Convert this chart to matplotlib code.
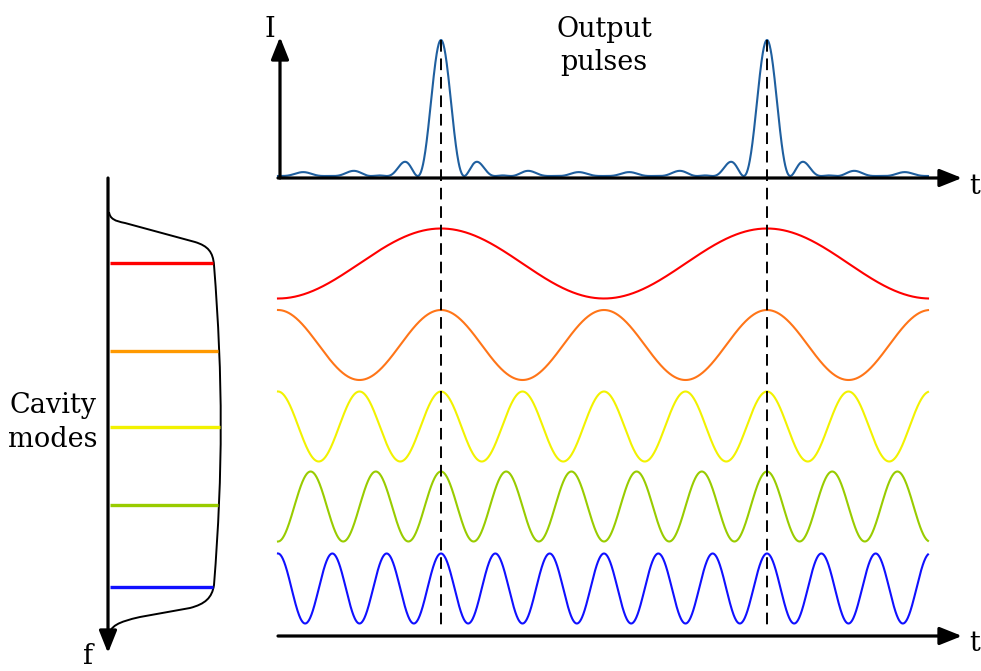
import numpy as np
import matplotlib
matplotlib.use("Agg")
import matplotlib.pyplot as plt
from matplotlib.path import Path
from matplotlib.patches import PathPatch

# mode orders drawn as waves (relative to the round-trip frequency)
mode_orders = [1, 2, 4, 5, 6]
mode_colors = ["#ff0000", "#ff7518", "#f2f200", "#99cc00", "#1010ff"]
line_colors = ["#ff0000", "#ff9900", "#f2f200", "#99cc00", "#1010ff"]
# modes summed for the output pulse train
pulse_modes = [1, 2, 3, 4, 5, 6]
pulse_times = [0.0, 1.0]  # in round trips

# gain envelope, as bezier vertices (pixels)
env_verts = [(109, 212), (110, 219), (115, 221), (125, 223),
             (195, 242),
             (208, 246), (213, 252), (214, 265),
             (223, 380), (223, 470), (214, 585),
             (212, 598), (205, 604), (190, 608),
             (140, 617),
             (118, 622), (110, 626), (109, 636)]
env_codes = [Path.MOVETO, Path.CURVE4, Path.CURVE4, Path.CURVE4,
             Path.LINETO,
             Path.CURVE4, Path.CURVE4, Path.CURVE4,
             Path.CURVE4, Path.CURVE4, Path.CURVE4,
             Path.CURVE4, Path.CURVE4, Path.CURVE4,
             Path.LINETO,
             Path.CURVE4, Path.CURVE4, Path.CURVE4]
mode_line_y = [263, 351, 427, 505, 587]

# layout (pixels)
t0_px, period_px = 441, 326
x_start, x_end = 278, 928
wave_center = [263.5, 345, 426.5, 506.5, 588.5]
wave_amp = 35
pulse_base, pulse_height = 176, 136

fig = plt.figure(figsize=(9.81, 6.71), dpi=100)
ax = fig.add_axes([0, 0, 1, 1])
ax.set_xlim(0, 981)
ax.set_ylim(671, 0)
ax.axis("off")

font = dict(family="DejaVu Serif", size=19.5, color="black")

px = np.linspace(x_start, x_end, 2000)
tt = (px - t0_px) / period_px

# waves
for k, c, yc in zip(mode_orders, mode_colors, wave_center):
    ax.plot(px, yc - wave_amp * np.cos(2 * np.pi * k * tt), color=c, lw=1.5)

# pulse intensity
field = sum(np.cos(2 * np.pi * k * tt) for k in pulse_modes)
intensity = field ** 2 / len(pulse_modes) ** 2
ax.plot(px, pulse_base - pulse_height * intensity, color="#1f5f9f", lw=1.5)

# dashed markers at pulse peaks
for tp in pulse_times:
    xp = t0_px + tp * period_px
    ax.plot([xp, xp], [40, 628], color="black", lw=1.4,
            linestyle=(0, (6, 3.5)))

arrow = dict(arrowstyle="-|>,head_length=0.45,head_width=0.18",
             color="black", lw=2.3, mutation_scale=30,
             shrinkA=0, shrinkB=0)
ax.annotate("", xy=(280, 37), xytext=(280, 178), arrowprops=arrow)
ax.annotate("", xy=(962, 178), xytext=(278, 178), arrowprops=arrow)
ax.annotate("", xy=(962, 636), xytext=(278, 636), arrowprops=arrow)
ax.annotate("", xy=(108, 653), xytext=(108, 178), arrowprops=arrow)

# gain envelope and mode lines
env_path = Path(env_verts, env_codes)
ax.add_patch(PathPatch(env_path, facecolor="none", edgecolor="black", lw=1.4))
samples = np.vstack([seg(np.linspace(0, 1, 40)) for seg, _ in env_path.iter_bezier()])
for y, c in zip(mode_line_y, line_colors):
    xr = np.interp(y, samples[:, 1], samples[:, 0]) - 1
    ax.plot([110, xr], [y, y], color=c, lw=2.4, solid_capstyle="butt")

ax.text(270, 37, "I", ha="center", va="baseline", **font)
ax.text(975, 194, "t", ha="center", va="baseline", **font)
ax.text(975, 651, "t", ha="center", va="baseline", **font)
ax.text(88, 664, "f", ha="center", va="baseline", **font)
ax.text(604, 37, "Output", ha="center", va="baseline", **font)
ax.text(604, 70, "pulses", ha="center", va="baseline", **font)
ax.text(53, 413, "Cavity", ha="center", va="baseline", **font)
ax.text(53, 447, "modes", ha="center", va="baseline", **font)

fig.savefig("out.png", dpi=100)
